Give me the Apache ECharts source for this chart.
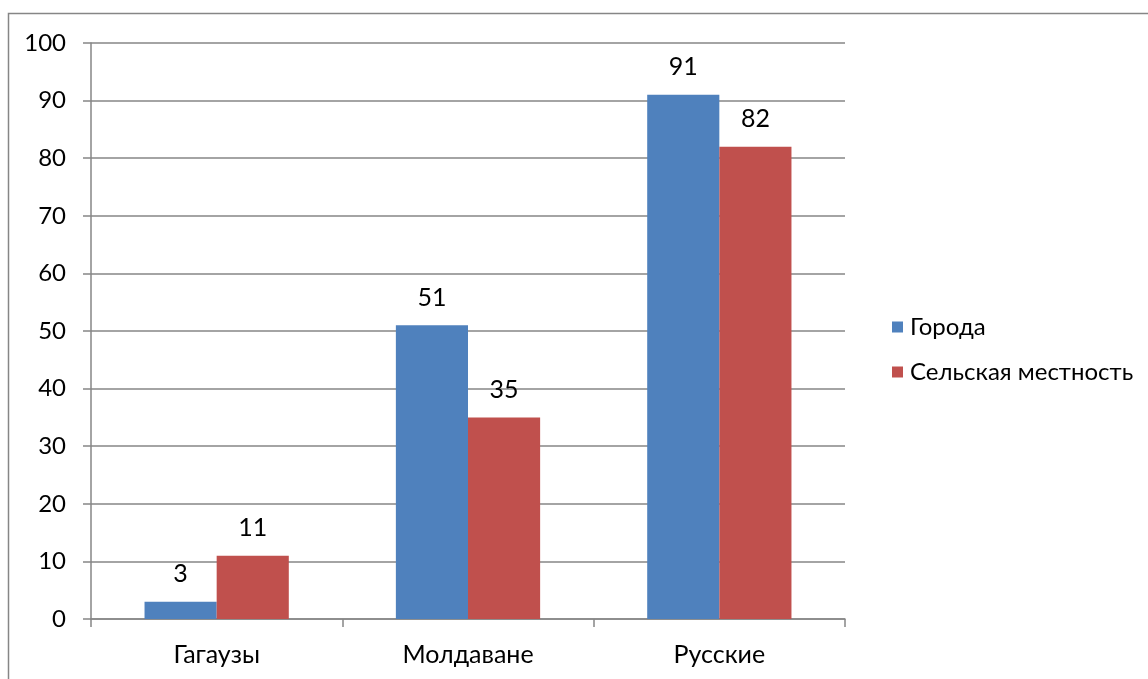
<!DOCTYPE html>
<html>
<head>
<meta charset="utf-8">
<script src="https://cdn.jsdelivr.net/npm/echarts@6/dist/echarts.min.js"></script>
<style>
  html, body { margin: 0; padding: 0; background: #fff; }
  #chart { width: 1148px; height: 679px; }
</style>
</head>
<body>
<div id="chart"></div>
<script>
// Доля населения, владеющего русским языком (%)
const categories = ['Гагаузы', 'Молдаване', 'Русские'];
const cities = [3, 51, 91];
const rural = [11, 35, 82];
const seriesNames = ['Города', 'Сельская местность'];

const FONT = 'Lato';
const chart = echarts.init(document.getElementById('chart'));

const labelStyle = {
  show: true,
  position: 'top',
  distance: 15,
  color: '#000',
  fontFamily: FONT,
  fontSize: 25
};

chart.setOption({
  animation: false,
  graphic: [{
    type: 'rect',
    shape: { x: 8.5, y: 13.5, width: 1160, height: 700 },
    style: { fill: 'none', stroke: '#868686', lineWidth: 1.5 },
    silent: true
  }],
  grid: { left: 91, top: 43, right: 303, bottom: 60, containLabel: false },
  legend: {
    orient: 'vertical',
    left: 887,
    top: 310,
    itemWidth: 11,
    itemHeight: 11,
    itemGap: 21,
    icon: 'rect',
    textStyle: { fontFamily: FONT, fontSize: 24, color: '#000', padding: [0, 0, 0, 2] },
    data: seriesNames
  },
  xAxis: {
    type: 'category',
    data: categories,
    axisLine: { lineStyle: { color: '#868686', width: 1.5 } },
    axisTick: { show: true, length: 8, alignWithLabel: false, lineStyle: { color: '#868686', width: 1.5 } },
    axisLabel: { color: '#000', fontFamily: FONT, fontSize: 25, margin: 23 }
  },
  yAxis: {
    type: 'value',
    min: 0,
    max: 100,
    interval: 10,
    axisLine: { show: true, lineStyle: { color: '#868686', width: 1.5 } },
    axisTick: { show: true, length: 8, inside: false, lineStyle: { color: '#868686', width: 1.5 } },
    splitLine: { lineStyle: { color: '#868686', width: 1.5 } },
    axisLabel: { color: '#000', fontFamily: FONT, fontSize: 24, margin: 25 }
  },
  series: [
    {
      name: seriesNames[0],
      type: 'bar',
      data: cities,
      barGap: '0%',
      barCategoryGap: '42.6%',
      itemStyle: { color: '#4F81BD' },
      label: labelStyle
    },
    {
      name: seriesNames[1],
      type: 'bar',
      data: rural,
      itemStyle: { color: '#C0504D' },
      label: labelStyle
    }
  ]
});
</script>
</body>
</html>
